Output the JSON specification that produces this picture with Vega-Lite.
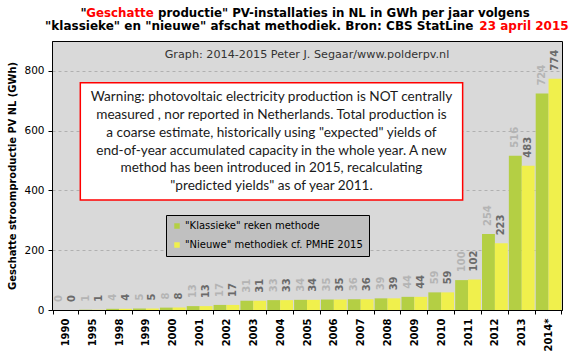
{
  "$schema": "https://vega.github.io/schema/vega-lite/v6.json",
  "autosize": {"type": "none"},
  "padding": {"left": 52, "top": 41, "right": 19, "bottom": 51},
  "width": 510,
  "height": 269,
  "background": "#ffffff",
  "config": {
    "view": {"stroke": "#000000", "strokeWidth": 1, "fill": "#d9d9d9"},
    "axis": {"domainColor": "#000000", "tickColor": "#000000"},
    "axisY": {"tickCount": 9}
  },
  "data": {
    "values": [
      {"jaar": "1990", "methode": "\"Klassieke\" reken methode", "gwh": 0},
      {"jaar": "1990", "methode": "\"Nieuwe\" methodiek cf. PMHE 2015", "gwh": 0},
      {"jaar": "1995", "methode": "\"Klassieke\" reken methode", "gwh": 1},
      {"jaar": "1995", "methode": "\"Nieuwe\" methodiek cf. PMHE 2015", "gwh": 1},
      {"jaar": "1998", "methode": "\"Klassieke\" reken methode", "gwh": 4},
      {"jaar": "1998", "methode": "\"Nieuwe\" methodiek cf. PMHE 2015", "gwh": 4},
      {"jaar": "1999", "methode": "\"Klassieke\" reken methode", "gwh": 5},
      {"jaar": "1999", "methode": "\"Nieuwe\" methodiek cf. PMHE 2015", "gwh": 5},
      {"jaar": "2000", "methode": "\"Klassieke\" reken methode", "gwh": 8},
      {"jaar": "2000", "methode": "\"Nieuwe\" methodiek cf. PMHE 2015", "gwh": 8},
      {"jaar": "2001", "methode": "\"Klassieke\" reken methode", "gwh": 13},
      {"jaar": "2001", "methode": "\"Nieuwe\" methodiek cf. PMHE 2015", "gwh": 13},
      {"jaar": "2002", "methode": "\"Klassieke\" reken methode", "gwh": 17},
      {"jaar": "2002", "methode": "\"Nieuwe\" methodiek cf. PMHE 2015", "gwh": 17},
      {"jaar": "2003", "methode": "\"Klassieke\" reken methode", "gwh": 31},
      {"jaar": "2003", "methode": "\"Nieuwe\" methodiek cf. PMHE 2015", "gwh": 31},
      {"jaar": "2004", "methode": "\"Klassieke\" reken methode", "gwh": 33},
      {"jaar": "2004", "methode": "\"Nieuwe\" methodiek cf. PMHE 2015", "gwh": 33},
      {"jaar": "2005", "methode": "\"Klassieke\" reken methode", "gwh": 34},
      {"jaar": "2005", "methode": "\"Nieuwe\" methodiek cf. PMHE 2015", "gwh": 34},
      {"jaar": "2006", "methode": "\"Klassieke\" reken methode", "gwh": 35},
      {"jaar": "2006", "methode": "\"Nieuwe\" methodiek cf. PMHE 2015", "gwh": 35},
      {"jaar": "2007", "methode": "\"Klassieke\" reken methode", "gwh": 36},
      {"jaar": "2007", "methode": "\"Nieuwe\" methodiek cf. PMHE 2015", "gwh": 36},
      {"jaar": "2008", "methode": "\"Klassieke\" reken methode", "gwh": 39},
      {"jaar": "2008", "methode": "\"Nieuwe\" methodiek cf. PMHE 2015", "gwh": 39},
      {"jaar": "2009", "methode": "\"Klassieke\" reken methode", "gwh": 44},
      {"jaar": "2009", "methode": "\"Nieuwe\" methodiek cf. PMHE 2015", "gwh": 44},
      {"jaar": "2010", "methode": "\"Klassieke\" reken methode", "gwh": 59},
      {"jaar": "2010", "methode": "\"Nieuwe\" methodiek cf. PMHE 2015", "gwh": 59},
      {"jaar": "2011", "methode": "\"Klassieke\" reken methode", "gwh": 100},
      {"jaar": "2011", "methode": "\"Nieuwe\" methodiek cf. PMHE 2015", "gwh": 102},
      {"jaar": "2012", "methode": "\"Klassieke\" reken methode", "gwh": 254},
      {"jaar": "2012", "methode": "\"Nieuwe\" methodiek cf. PMHE 2015", "gwh": 223},
      {"jaar": "2013", "methode": "\"Klassieke\" reken methode", "gwh": 516},
      {"jaar": "2013", "methode": "\"Nieuwe\" methodiek cf. PMHE 2015", "gwh": 483},
      {"jaar": "2014*", "methode": "\"Klassieke\" reken methode", "gwh": 724},
      {"jaar": "2014*", "methode": "\"Nieuwe\" methodiek cf. PMHE 2015", "gwh": 774}
    ]
  },
  "layer": [
    {
      "mark": {"type": "bar"},
      "encoding": {
        "x": {
          "field": "jaar",
          "type": "nominal",
          "scale": {
            "domain": ["1990","1995","1998","1999","2000","2001","2002","2003","2004","2005","2006","2007","2008","2009","2010","2011","2012","2013","2014*"],
            "paddingInner": 0.04,
            "paddingOuter": 0.02
          },
          "axis": {
            "title": null,
            "labelAngle": 270,
            "labelFont": "DejaVu Sans",
            "labelFontWeight": "bold",
            "labelFontSize": 10,
            "labelColor": "#000000",
            "labelPadding": 4,
            "tickSize": 4,
            "tickBand": "extent",
            "grid": false
          }
        },
        "y": {
          "field": "gwh",
          "type": "quantitative",
          "scale": {"domain": [0, 900], "nice": false, "zero": true},
          "axis": {
            "title": "Geschatte stroomproductie PV NL (GWh)",
            "titleFont": "DejaVu Sans Condensed, DejaVu Sans",
            "titleFontWeight": "bold",
            "titleFontSize": 11,
            "titleColor": "#000000",
            "titlePadding": 6,
            "values": [0,100,200,300,400,500,600,700,800,900],
            "tickCount": 9,
            "labelFont": "DejaVu Sans",
            "labelFontSize": 10.5,
            "labelColor": "#000000",
            "labelPadding": 4,
            "tickSize": 4,
            "grid": true,
            "gridColor": "#b0b0b0",
            "gridDash": [3, 3]
          }
        },
        "xOffset": {
          "field": "methode",
          "type": "nominal",
          "scale": {"domain": ["\"Klassieke\" reken methode", "\"Nieuwe\" methodiek cf. PMHE 2015"], "paddingInner": 0, "paddingOuter": 0}
        },
        "color": {
          "field": "methode",
          "type": "nominal",
          "scale": {
            "domain": ["\"Klassieke\" reken methode", "\"Nieuwe\" methodiek cf. PMHE 2015"],
            "range": ["#b4cf44", "#f0f04c"]
          },
          "legend": {
            "title": null,
            "orient": "none",
            "legendX": 114,
            "legendY": 174,
            "fillColor": "#c0c0c0",
            "strokeColor": "#000000",
            "padding": 6,
            "labelFont": "DejaVu Sans",
            "labelFontSize": 10,
            "labelColor": "#000000",
            "labelLimit": 400,
            "labelOffset": 3,
            "symbolType": "square",
            "symbolSize": 30,
            "symbolStrokeWidth": 0,
            "rowPadding": 9
          }
        }
      }
    },
    {
      "mark": {"type": "text", "angle": 270, "align": "left", "baseline": "middle", "dx": 8, "font": "DejaVu Sans", "fontWeight": "bold", "fontSize": 10},
      "encoding": {
        "x": {"field": "jaar", "type": "nominal"},
        "y": {
          "field": "gwh",
          "type": "quantitative",
          "axis": {
            "title": "Geschatte stroomproductie PV NL (GWh)",
            "values": [0,100,200,300,400,500,600,700,800,900],
            "tickCount": 9
          }
        },
        "xOffset": {
          "field": "methode",
          "type": "nominal",
          "scale": {"domain": ["\"Klassieke\" reken methode", "\"Nieuwe\" methodiek cf. PMHE 2015"], "paddingInner": 0, "paddingOuter": 0}
        },
        "text": {"field": "gwh", "type": "quantitative", "format": "d"},
        "color": {
          "condition": {"test": "indexof(datum.methode, 'Klassieke') >= 0", "value": "#b4b4b4"},
          "value": "#6a6a6a"
        }
      }
    },
    {
      "data": {"values": [{"box": "warning"}]},
      "mark": {"type": "rect", "fill": "#ffffff", "stroke": "#ff0000", "strokeWidth": 1.5},
      "encoding": {
        "x": {"datum": "1995", "bandPosition": 0.036},
        "x2": {"datum": "2011", "bandPosition": 0.29},
        "y": {"datum": 760},
        "y2": {"datum": 368}
      }
    },
    {
      "data": {"values": [{"tekst": ["Warning: photovoltaic electricity production is NOT centrally", "measured , nor reported in Netherlands.  Total production is", "a coarse estimate, historically  using  \"expected\" yields  of", "end-of-year accumulated capacity in the whole year. A new", "method has been introduced in 2015, recalculating", "\"predicted yields\" as of year 2011."]}]},
      "mark": {"type": "text", "align": "center", "baseline": "middle", "font": "Lato", "fontSize": 13.6, "lineHeight": 17.9, "color": "#1a1a1a"},
      "encoding": {
        "text": {"field": "tekst"},
        "x": {"datum": "2004", "bandPosition": 0.163},
        "y": {"datum": 713}
      }
    },
    {
      "data": {"values": [{"tekst": "Graph: 2014-2015  Peter J. Segaar/www.polderpv.nl"}]},
      "mark": {"type": "text", "align": "center", "baseline": "alphabetic", "font": "DejaVu Sans", "fontSize": 11.2, "color": "#333333"},
      "encoding": {
        "text": {"field": "tekst"},
        "x": {"datum": "2005", "bandPosition": 0.5},
        "y": {"datum": 842}
      }
    },
    {
      "data": {"values": [{"tekst": "\""}]},
      "mark": {"type": "text", "align": "right", "baseline": "alphabetic", "font": "DejaVu Sans", "fontWeight": "bold", "fontSize": 11.8, "color": "#000000"},
      "encoding": {
        "text": {"field": "tekst"},
        "x": {"datum": "1995", "bandPosition": 0.28},
        "y": {"datum": 981}
      }
    },
    {
      "data": {"values": [{"tekst": "Geschatte"}]},
      "mark": {"type": "text", "align": "right", "baseline": "alphabetic", "font": "DejaVu Sans", "fontWeight": "bold", "fontSize": 11.8, "color": "#ff0000"},
      "encoding": {
        "text": {"field": "tekst"},
        "x": {"datum": "1999", "bandPosition": 0.8},
        "y": {"datum": 981}
      }
    },
    {
      "data": {"values": [{"tekst": "productie\"  PV-installaties in NL in GWh per jaar volgens"}]},
      "mark": {"type": "text", "align": "left", "baseline": "alphabetic", "font": "DejaVu Sans", "fontWeight": "bold", "fontSize": 11.8, "color": "#000000"},
      "encoding": {
        "text": {"field": "tekst"},
        "x": {"datum": "1999", "bandPosition": 0.97},
        "y": {"datum": 981}
      }
    },
    {
      "data": {"values": [{"tekst": "\"klassieke\" en \"nieuwe\" afschat methodiek.  Bron: CBS StatLine"}]},
      "mark": {"type": "text", "align": "right", "baseline": "alphabetic", "font": "DejaVu Sans", "fontWeight": "bold", "fontSize": 12, "color": "#000000"},
      "encoding": {
        "text": {"field": "tekst"},
        "x": {"datum": "2011", "bandPosition": 0.712},
        "y": {"datum": 937}
      }
    },
    {
      "data": {"values": [{"tekst": "23 april 2015"}]},
      "mark": {"type": "text", "align": "left", "baseline": "alphabetic", "font": "DejaVu Sans", "fontWeight": "bold", "fontSize": 12, "color": "#ff0000"},
      "encoding": {
        "text": {"field": "tekst"},
        "x": {"datum": "2011", "bandPosition": 0.9375},
        "y": {"datum": 937}
      }
    }
  ]
}
